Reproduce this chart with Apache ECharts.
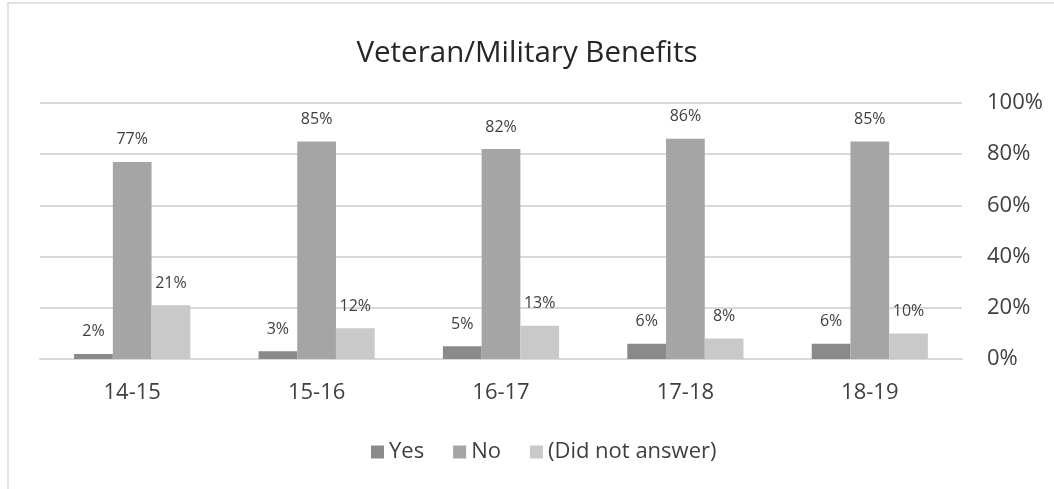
<!DOCTYPE html>
<html>
<head>
<meta charset="utf-8">
<script src="https://cdn.jsdelivr.net/npm/echarts@6/dist/echarts.min.js"></script>
<style>html,body{margin:0;padding:0;background:#fff}#c{width:1054px;height:489px}</style>
</head>
<body>
<div id="c"></div>
<script>
const categories = ['14-15', '15-16', '16-17', '17-18', '18-19'];
const yesValues = [2, 3, 5, 6, 6];
const noValues = [77, 85, 82, 86, 85];
const didNotAnswerValues = [21, 12, 13, 8, 10];
const seriesNames = ['Yes', 'No', '(Did not answer)'];
const FONT = '"Open Sans", Lato, sans-serif';

const chart = echarts.init(document.getElementById('c'), null, {renderer: 'canvas'});
const labelCfg = {
  show: true, position: 'top', distance: 14,
  formatter: p => p.value + '%',
  color: '#404040', fontSize: 16, fontFamily: FONT
};
chart.setOption({
  animation: false,
  backgroundColor: '#fff',
  graphic: [{
    type: 'rect', shape: {x: 8, y: 3, width: 1100, height: 540},
    style: {fill: 'none', stroke: '#d9d9d9', lineWidth: 1.5}, silent: true, z: -1
  }],
  title: {
    text: 'Veteran/Military Benefits', left: 'center', top: 34,
    textStyle: {color: '#262626', fontSize: 29.5, fontWeight: 'normal', fontFamily: FONT}
  },
  legend: {
    data: seriesNames, bottom: 21, left: 366, itemWidth: 13, itemHeight: 13, itemGap: 29,
    icon: 'rect',
    textStyle: {color: '#404040', fontSize: 22, fontFamily: FONT}
  },
  grid: {left: 40, right: 92, top: 103, bottom: 130},
  xAxis: {
    type: 'category', data: categories,
    axisLine: {lineStyle: {color: '#d9d9d9', width: 2}},
    axisTick: {show: false},
    axisLabel: {color: '#404040', fontSize: 22, fontFamily: FONT, margin: 23}
  },
  yAxis: {
    type: 'value', position: 'right', min: 0, max: 100, interval: 20,
    axisLine: {show: false}, axisTick: {show: false},
    splitLine: {lineStyle: {color: '#d9d9d9', width: 2}},
    axisLabel: {formatter: v => v + '%', color: '#404040', fontSize: 22, fontFamily: FONT, margin: 25}
  },
  series: [
    {name: seriesNames[0], type: 'bar', data: yesValues, itemStyle: {color: '#8a8a8a'}, label: labelCfg, barGap: '0%', barCategoryGap: '37%'},
    {name: seriesNames[1], type: 'bar', data: noValues, itemStyle: {color: '#a5a5a5'}, label: labelCfg, barGap: '0%', barCategoryGap: '37%'},
    {name: seriesNames[2], type: 'bar', data: didNotAnswerValues, itemStyle: {color: '#c9c9c9'}, label: labelCfg, barGap: '0%', barCategoryGap: '37%'}
  ]
});
</script>
</body>
</html>
